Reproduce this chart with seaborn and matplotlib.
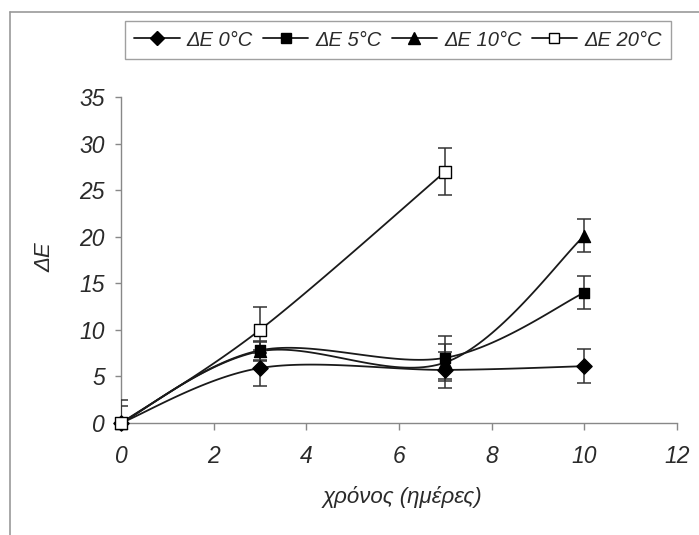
import numpy as np
import matplotlib
matplotlib.use("Agg")
import matplotlib.pyplot as plt
from matplotlib.lines import Line2D
import seaborn as sns

# ---- data ----
days = [0, 3, 7, 10]
days_20 = [0, 3, 7]
de_0 = [0, 5.9, 5.7, 6.1]
err_0 = [2.5, 1.9, 1.9, 1.8]
de_5 = [0, 7.8, 7.0, 14.0]
err_5 = [1.8, 1.0, 2.3, 1.75]
de_10 = [0, 7.7, 6.5, 20.1]
err_10 = [0.0, 1.0, 2.0, 1.75]
de_20 = [0, 10.0, 27.0]
err_20 = [0.0, 2.5, 2.55]
labels = ["ΔE 0°C", "ΔE 5°C", "ΔE 10°C", "ΔE 20°C"]
xticks = [0, 2, 4, 6, 8, 10, 12]
yticks = [0, 5, 10, 15, 20, 25, 30, 35]

sns.set_style("white")
plt.rcParams['font.family'] = ['Liberation Sans', 'DejaVu Sans']
plt.rcParams['font.style'] = 'italic'

fig = plt.figure(figsize=(6.99, 5.35), dpi=100)
ax = fig.add_axes([121/699, 1-423/535, 556/699, 326/535])


def smooth(xs, ys, n=40):
    """Excel-like smoothed line (Bezier with Catmull-Rom control points)."""
    P = np.column_stack([xs, ys]).astype(float)
    out = []
    m = len(P)
    for i in range(m - 1):
        p0 = P[max(i - 1, 0)]
        p1 = P[i]
        p2 = P[i + 1]
        p3 = P[min(i + 2, m - 1)]
        c1 = p1 + (p2 - p0) / 6.0
        c2 = p2 - (p3 - p1) / 6.0
        t = np.linspace(0, 1, n)[:, None]
        seg = ((1 - t) ** 3) * p1 + 3 * ((1 - t) ** 2) * t * c1 + 3 * (1 - t) * t ** 2 * c2 + t ** 3 * p2
        out.append(seg)
    s = np.vstack(out)
    return s[:, 0], s[:, 1]


series = [
    (days, de_0, err_0, 'D', 'black', 'black', 60),
    (days, de_5, err_5, 's', 'black', 'black', 60),
    (days, de_10, err_10, '^', 'black', 'black', 75),
    (days_20, de_20, err_20, 's', 'white', 'black', 65),
]

col = '#1a1a1a'
txt = '#2a2a2a'
for xs, ys, es, mk, fc, ec, sz in series:
    sx, sy = smooth(xs, ys)
    ax.plot(sx, sy, color=col, lw=1.3, zorder=2)
    ax.errorbar(xs, ys, yerr=es, fmt='none', ecolor='#333333', elinewidth=1.1,
                capsize=5, capthick=1.1, zorder=3)
    sns.scatterplot(x=xs, y=ys, marker=mk, s=sz, color=fc, edgecolor=ec,
                    linewidth=1.0, ax=ax, zorder=4, clip_on=False, legend=False)

ax.set_xlim(0, 12)
ax.set_ylim(0, 35)
ax.set_xticks(xticks)
ax.set_yticks(yticks)
ax.set_xticklabels([str(t) for t in xticks], fontsize=16.5, style='italic', color=txt)
ax.set_yticklabels([str(t) for t in yticks], fontsize=16.5, style='italic', color=txt)
ax.tick_params(axis='x', direction='out', length=5, width=1, color='#888888', pad=11, bottom=True)
ax.tick_params(axis='y', direction='out', length=4.5, width=1, color='#888888', pad=7, left=True)
for s in ['top', 'right']:
    ax.spines[s].set_visible(False)
for s in ['left', 'bottom']:
    ax.spines[s].set_color('#888888')
    ax.spines[s].set_linewidth(1.0)

xl = ax.set_xlabel("χρόνος (ημέρες)", fontsize=16, style='italic', color=txt)
ax.xaxis.set_label_coords(0.507, -0.227)
xl.set_va('center')
yl = ax.set_ylabel("ΔE", fontsize=16, style='italic', color=txt)
ax.yaxis.set_label_coords(-0.137, 0.509)
yl.set_va('center')

handles = [
    Line2D([], [], color=col, lw=1.3, marker='D', markersize=7, markerfacecolor='black', markeredgecolor='black'),
    Line2D([], [], color=col, lw=1.3, marker='s', markersize=7, markerfacecolor='black', markeredgecolor='black'),
    Line2D([], [], color=col, lw=1.3, marker='^', markersize=8, markerfacecolor='black', markeredgecolor='black'),
    Line2D([], [], color=col, lw=1.3, marker='s', markersize=7, markerfacecolor='white', markeredgecolor='black'),
]
leg = fig.legend(handles, labels, loc='center', bbox_to_anchor=(398/699, 1-40/535), ncol=4,
                 frameon=True, fancybox=False, edgecolor='#888888',
                 handlelength=2.25, handletextpad=0.35, columnspacing=0.5, numpoints=1,
                 borderpad=0.45, prop={'style': 'italic', 'size': 14.5})
leg.get_frame().set_linewidth(1.0)
for t in leg.get_texts():
    t.set_color(txt)

# chart area border (scan)
fig.add_artist(Line2D([10/699, 10/699], [0, 1-12/535], color='#999999', lw=1.2))
fig.add_artist(Line2D([10/699, 1], [1-12/535, 1-12/535], color='#999999', lw=1.2))

fig.savefig("out.png", dpi=100)
